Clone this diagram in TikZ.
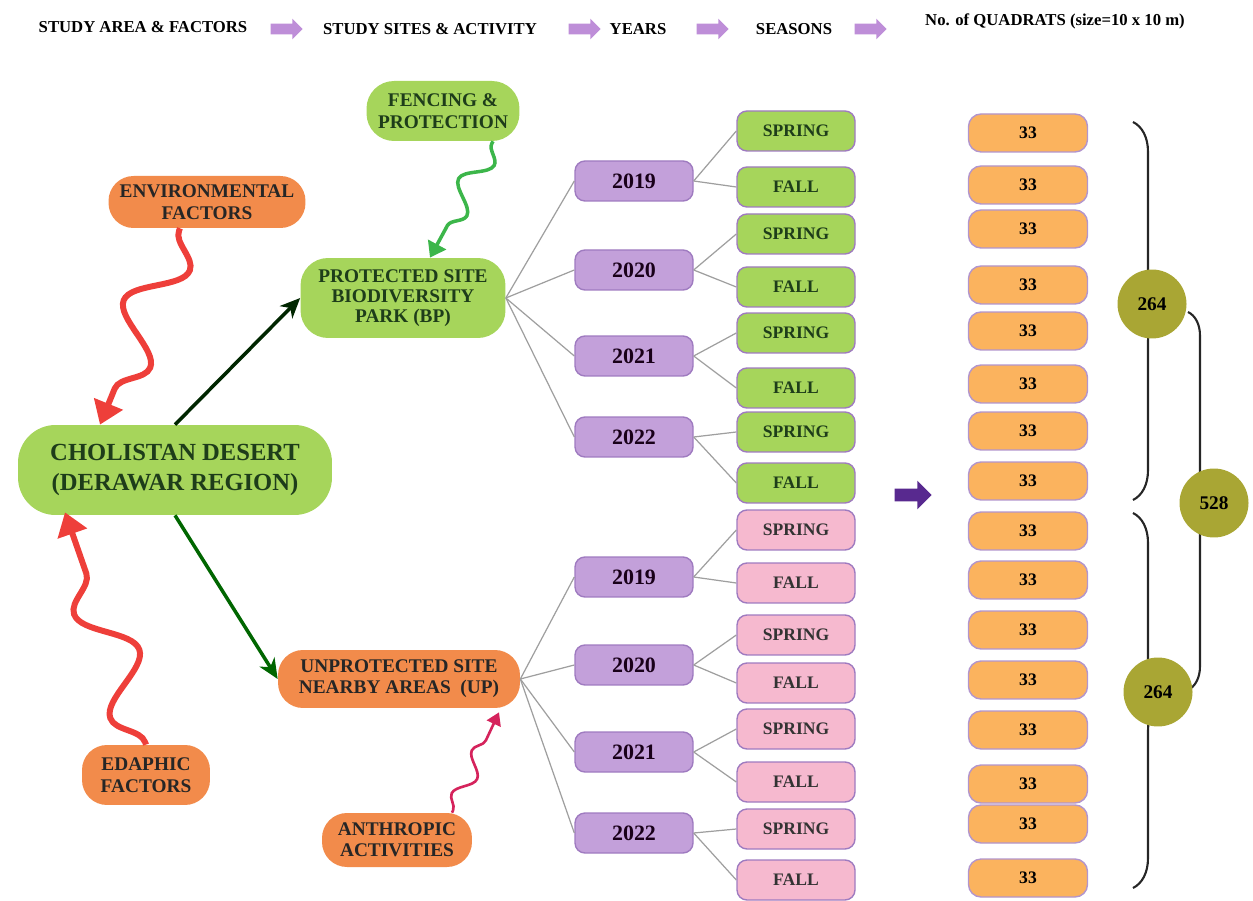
\documentclass[tikz,border=0pt]{standalone}
\usepackage{fontspec}
\setmainfont{Liberation Serif}
\usetikzlibrary{calc,arrows.meta,shapes.arrows,decorations.pathmorphing,decorations.pathreplacing}

\definecolor{leaf}{HTML}{A6D55B}
\definecolor{leafink}{HTML}{1E3D1A}
\definecolor{peach}{HTML}{F28B4B}
\definecolor{lilac}{HTML}{C3A0DA}
\definecolor{lilacline}{HTML}{9F7BC0}
\definecolor{rose}{HTML}{F6B9CF}
\definecolor{apricot}{HTML}{FBB35E}
\definecolor{olive}{HTML}{A9A634}
\definecolor{hdrarrow}{HTML}{BE8ED8}
\definecolor{deeppurple}{HTML}{58298F}
\definecolor{redwave}{HTML}{EE3F3A}
\definecolor{greenwave}{HTML}{3CB64A}
\definecolor{crimson}{HTML}{D5235C}

\tikzset{
  blob/.style={rounded corners=#1, align=center, font=\bfseries, inner sep=1pt},
  site/.style={blob=0.55cm, fill=leaf, text=leafink},
  factor/.style={blob=0.5cm, fill=peach, text=black!85},
  year/.style={blob=0.2cm, fill=lilac, draw=lilacline, line width=0.8pt,
    minimum width=2.36cm, minimum height=0.8cm, font=\bfseries\fontsize{12.5}{14}\selectfont, text=black!80!violet},
  season/.style={blob=0.2cm, draw=lilacline, line width=0.8pt,
    minimum width=2.36cm, minimum height=0.8cm, font=\bfseries\fontsize{10}{12}\selectfont},
  quad/.style={blob=0.25cm, fill=apricot, draw=lilacline!80, line width=0.8pt,
    minimum width=2.38cm, minimum height=0.76cm, font=\bfseries\fontsize{10}{12}\selectfont},
  total/.style={circle, fill=olive, minimum size=1.38cm, inner sep=0,
    font=\bfseries\fontsize{11}{13}\selectfont},
  hdr/.style={font=\bfseries\fontsize{9.5}{11}\selectfont},
  hdrarrowbox/.style={single arrow, fill=hdrarrow, minimum height=0.64cm,
    inner xsep=0, inner ysep=0.1cm, single arrow head extend=0.1cm},
  twig/.style={draw=gray!75, line width=0.7pt},
  wave/.style={draw=#1, decorate, -{Triangle[width=0.6cm,length=0.45cm]}},
  bracket/.style={decorate, decoration={brace, amplitude=#1}, line width=1.2pt, black!85},
}

\begin{document}
\begin{tikzpicture}[x=0.02cm, y=-0.02cm]
\useasboundingbox (0,0) rectangle (1253,901);

% header line
\node[hdr] (h1) at (143,27) {STUDY AREA \& FACTORS};
\node[hdrarrowbox] (ha1) at (284,29) {};
\node[hdr] (h2) at (430,29) {STUDY SITES \& ACTIVITY};
\node[hdrarrowbox] (ha2) at (582,29) {};
\node[hdr] (h3) at (638,29) {YEARS};
\node[hdrarrowbox] (ha3) at (710,29) {};
\node[hdr] (h4) at (794,29) {SEASONS};
\node[hdrarrowbox] (ha4) at (868,29) {};
\node[hdr] (h5) at (1055,21) {No. of QUADRATS (size=10 x 10 m)};

% area, sites and factors
\node[site, minimum width=6.28cm, minimum height=1.8cm, rounded corners=0.75cm,
  font=\bfseries\fontsize{14}{17}\selectfont] (cd) at (175,470) {CHOLISTAN DESERT\\(DERAWAR REGION)};
\node[site, minimum width=4.1cm, minimum height=1.6cm, font=\bfseries\fontsize{11}{11.5}\selectfont]
  (bp) at (403,298) {PROTECTED SITE\\BIODIVERSITY\\PARK (BP)};
\node[site, minimum width=3.06cm, minimum height=1.2cm, font=\bfseries\fontsize{11}{12.5}\selectfont]
  (fp) at (443,111) {FENCING \&\\PROTECTION};
\node[factor, minimum width=4.84cm, minimum height=1.16cm, font=\bfseries\fontsize{11}{12}\selectfont]
  (up) at (399,679) {UNPROTECTED SITE\\NEARBY AREAS\ \ (UP)};
\node[factor, minimum width=3.94cm, minimum height=1.04cm, font=\bfseries\fontsize{11}{12.5}\selectfont]
  (ef) at (207,202) {ENVIRONMENTAL\\FACTORS};
\node[factor, minimum width=2.56cm, minimum height=1.2cm, font=\bfseries\fontsize{11}{12.5}\selectfont]
  (ed) at (146,775) {EDAPHIC\\FACTORS};
\node[factor, minimum width=3.0cm, minimum height=1.08cm, font=\bfseries\fontsize{11}{12}\selectfont]
  (an) at (397,840) {ANTHROPIC\\ACTIVITIES};

% years
\foreach \y/\t [count=\i] in {181/2019,270/2020,356/2021,437/2022}
  \node[year] (ya\i) at (634,\y) {\t};
\foreach \y/\t [count=\i] in {577/2019,665/2020,752/2021,833/2022}
  \node[year] (yb\i) at (634,\y) {\t};

% seasons
\foreach \y/\s [count=\i] in {131/SPRING,187/FALL,234/SPRING,287/FALL,333/SPRING,388/FALL,432/SPRING,483/FALL}
  \node[season, fill=leaf, text=leafink] (sa\i) at (796,\y) {\s};
\foreach \y/\s [count=\i] in {530/SPRING,583/FALL,635/SPRING,683/FALL,729/SPRING,782/FALL,829/SPRING,880/FALL}
  \node[season, fill=rose, text=black!80] (sb\i) at (796,\y) {\s};

% quadrats
\foreach \y [count=\i] in {133,185,229,285,331,384,431,481,531,580,630,680,730,784,824,878}
  \node[quad] (q\i) at (1028,\y) {33};

% tree lines
\foreach \i in {1,...,4} {
  \draw[twig] (bp.east) -- (ya\i.west);
  \draw[twig] (up.east) -- (yb\i.west);
}
\foreach \i [evaluate=\i as \a using int(2*\i-1), evaluate=\i as \b using int(2*\i)] in {1,...,4} {
  \draw[twig] (ya\i.east) -- (sa\a.west);
  \draw[twig] (ya\i.east) -- (sa\b.west);
  \draw[twig] (yb\i.east) -- (sb\a.west);
  \draw[twig] (yb\i.east) -- (sb\b.west);
}

% main arrows
\draw[line width=2pt, black!85!green, -{Stealth[length=0.4cm,width=0.35cm,inset=0.12cm]}] (cd.north) -- (bp.west);
\draw[line width=2pt, green!40!black, -{Stealth[length=0.4cm,width=0.35cm,inset=0.12cm]}] (cd.south) -- (up.west);

% wavy influences
\draw[wave=redwave, line width=3.4pt, decoration={snake, amplitude=0.5cm, segment length=2.1cm, pre length=0.05cm, post length=0.55cm}]
  ($(ef.south)+(-27,0)$) -- ($(cd.north)+(-75,0)$);
\draw[wave=redwave, line width=3.4pt, decoration={snake, amplitude=0.5cm, segment length=2.2cm, pre length=0.05cm, post length=0.55cm}]
  ($(ed.north)+(0,0)$) -- ($(cd.south)+(-110,-3)$);
\draw[wave=greenwave, line width=2pt, -{Triangle[width=0.4cm,length=0.3cm]}, decoration={snake, amplitude=0.25cm, segment length=1.15cm, pre length=0.05cm, post length=0.35cm}]
  ($(fp.south)+(50,0)$) -- ($(bp.north)+(27,0)$);
\draw[wave=crimson, line width=1.5pt, -{Triangle[width=0.3cm,length=0.25cm]}, decoration={snake, amplitude=0.17cm, segment length=0.95cm, pre length=0.05cm, post length=0.3cm}]
  ($(an.north)+(55,0)$) -- ($(up.south)+(100,4)$);

% summing arrow
\node[single arrow, fill=deeppurple, minimum height=0.74cm, inner xsep=0, inner ysep=0.12cm,
  single arrow head extend=0.16cm] (sum) at (910,495) {};

% braces and totals
\coordinate (ta) at (1133,122);
\coordinate (tb) at (1133,500);
\coordinate (ba) at (1133,513);
\coordinate (bb) at (1133,888);
\coordinate (ma) at (1188,312);
\coordinate (mb) at (1188,690);
\draw[bracket=0.6cm] (ta) -- (tb);
\draw[bracket=0.6cm] (ba) -- (bb);
\draw[bracket=0.48cm] (ma) -- (mb);
\node[total] (na) at (1152,304) {264};
\node[total] (nb) at (1158,692) {264};
\node[total] (nt) at (1214,503) {528};

\end{tikzpicture}
\end{document}
